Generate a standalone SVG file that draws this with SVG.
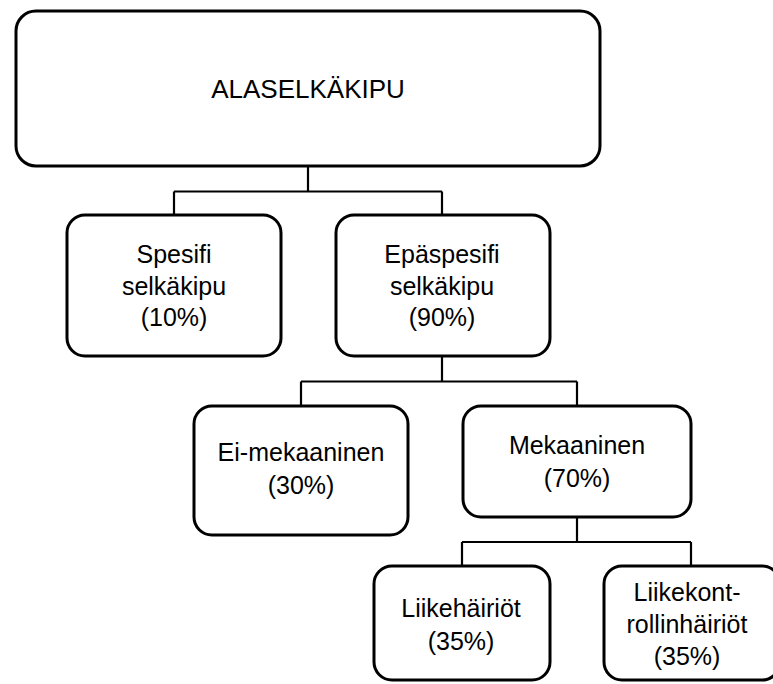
<svg xmlns="http://www.w3.org/2000/svg" width="773" height="684" viewBox="0 0 773 684">
<style>
.box{fill:#fff;stroke:#000;stroke-width:3}
.conn{fill:none;stroke:#000;stroke-width:2.2}
text{font-family:"Liberation Sans",Arial,sans-serif;font-size:25px;fill:#000;text-anchor:middle}
.title{font-size:26px}
</style>
<rect width="773" height="684" fill="#fff"/>
<g id="connectors">
<path class="conn" d="M308 166 V191.5 M174 191.5 H442 M174 191.5 V214 M442 191.5 V214"/>
<path class="conn" d="M442 357 V381.5 M301 381.5 H577 M301 381.5 V405 M577 381.5 V405"/>
<path class="conn" d="M577 518 V542 M462 542 H691 M462 542 V565 M691 542 V565"/>
</g>
<g id="n-alaselkakipu">
<rect class="box" x="16" y="11" width="584" height="155" rx="20"/>
<text class="title" x="308" y="98">ALASELKÄKIPU</text>
</g>
<g id="n-spesifi">
<rect class="box" x="67" y="215" width="214" height="141" rx="18"/>
<text x="174" y="263">Spesifi</text>
<text x="174" y="295">selkäkipu</text>
<text x="174" y="326">(10%)</text>
</g>
<g id="n-epaspesifi">
<rect class="box" x="336" y="215" width="214" height="141" rx="18"/>
<text x="442" y="263">Epäspesifi</text>
<text x="442" y="295">selkäkipu</text>
<text x="442" y="326">(90%)</text>
</g>
<g id="n-eimekaaninen">
<rect class="box" x="194" y="406" width="214" height="129" rx="18"/>
<text x="301" y="461">Ei-mekaaninen</text>
<text x="301" y="494">(30%)</text>
</g>
<g id="n-mekaaninen">
<rect class="box" x="463" y="406" width="228" height="111" rx="18"/>
<text x="577" y="454">Mekaaninen</text>
<text x="577" y="487">(70%)</text>
</g>
<g id="n-liikehairiot">
<rect class="box" x="374" y="566" width="176" height="114" rx="18"/>
<text x="461" y="617">Liikehäiriöt</text>
<text x="461" y="650">(35%)</text>
</g>
<g id="n-liikekontrollinhairiot">
<rect class="box" x="604" y="566" width="176" height="114" rx="18"/>
<text x="687" y="601">Liikekont-</text>
<text x="687" y="633">rollinhäiriöt</text>
<text x="687" y="665">(35%)</text>
</g>
</svg>
